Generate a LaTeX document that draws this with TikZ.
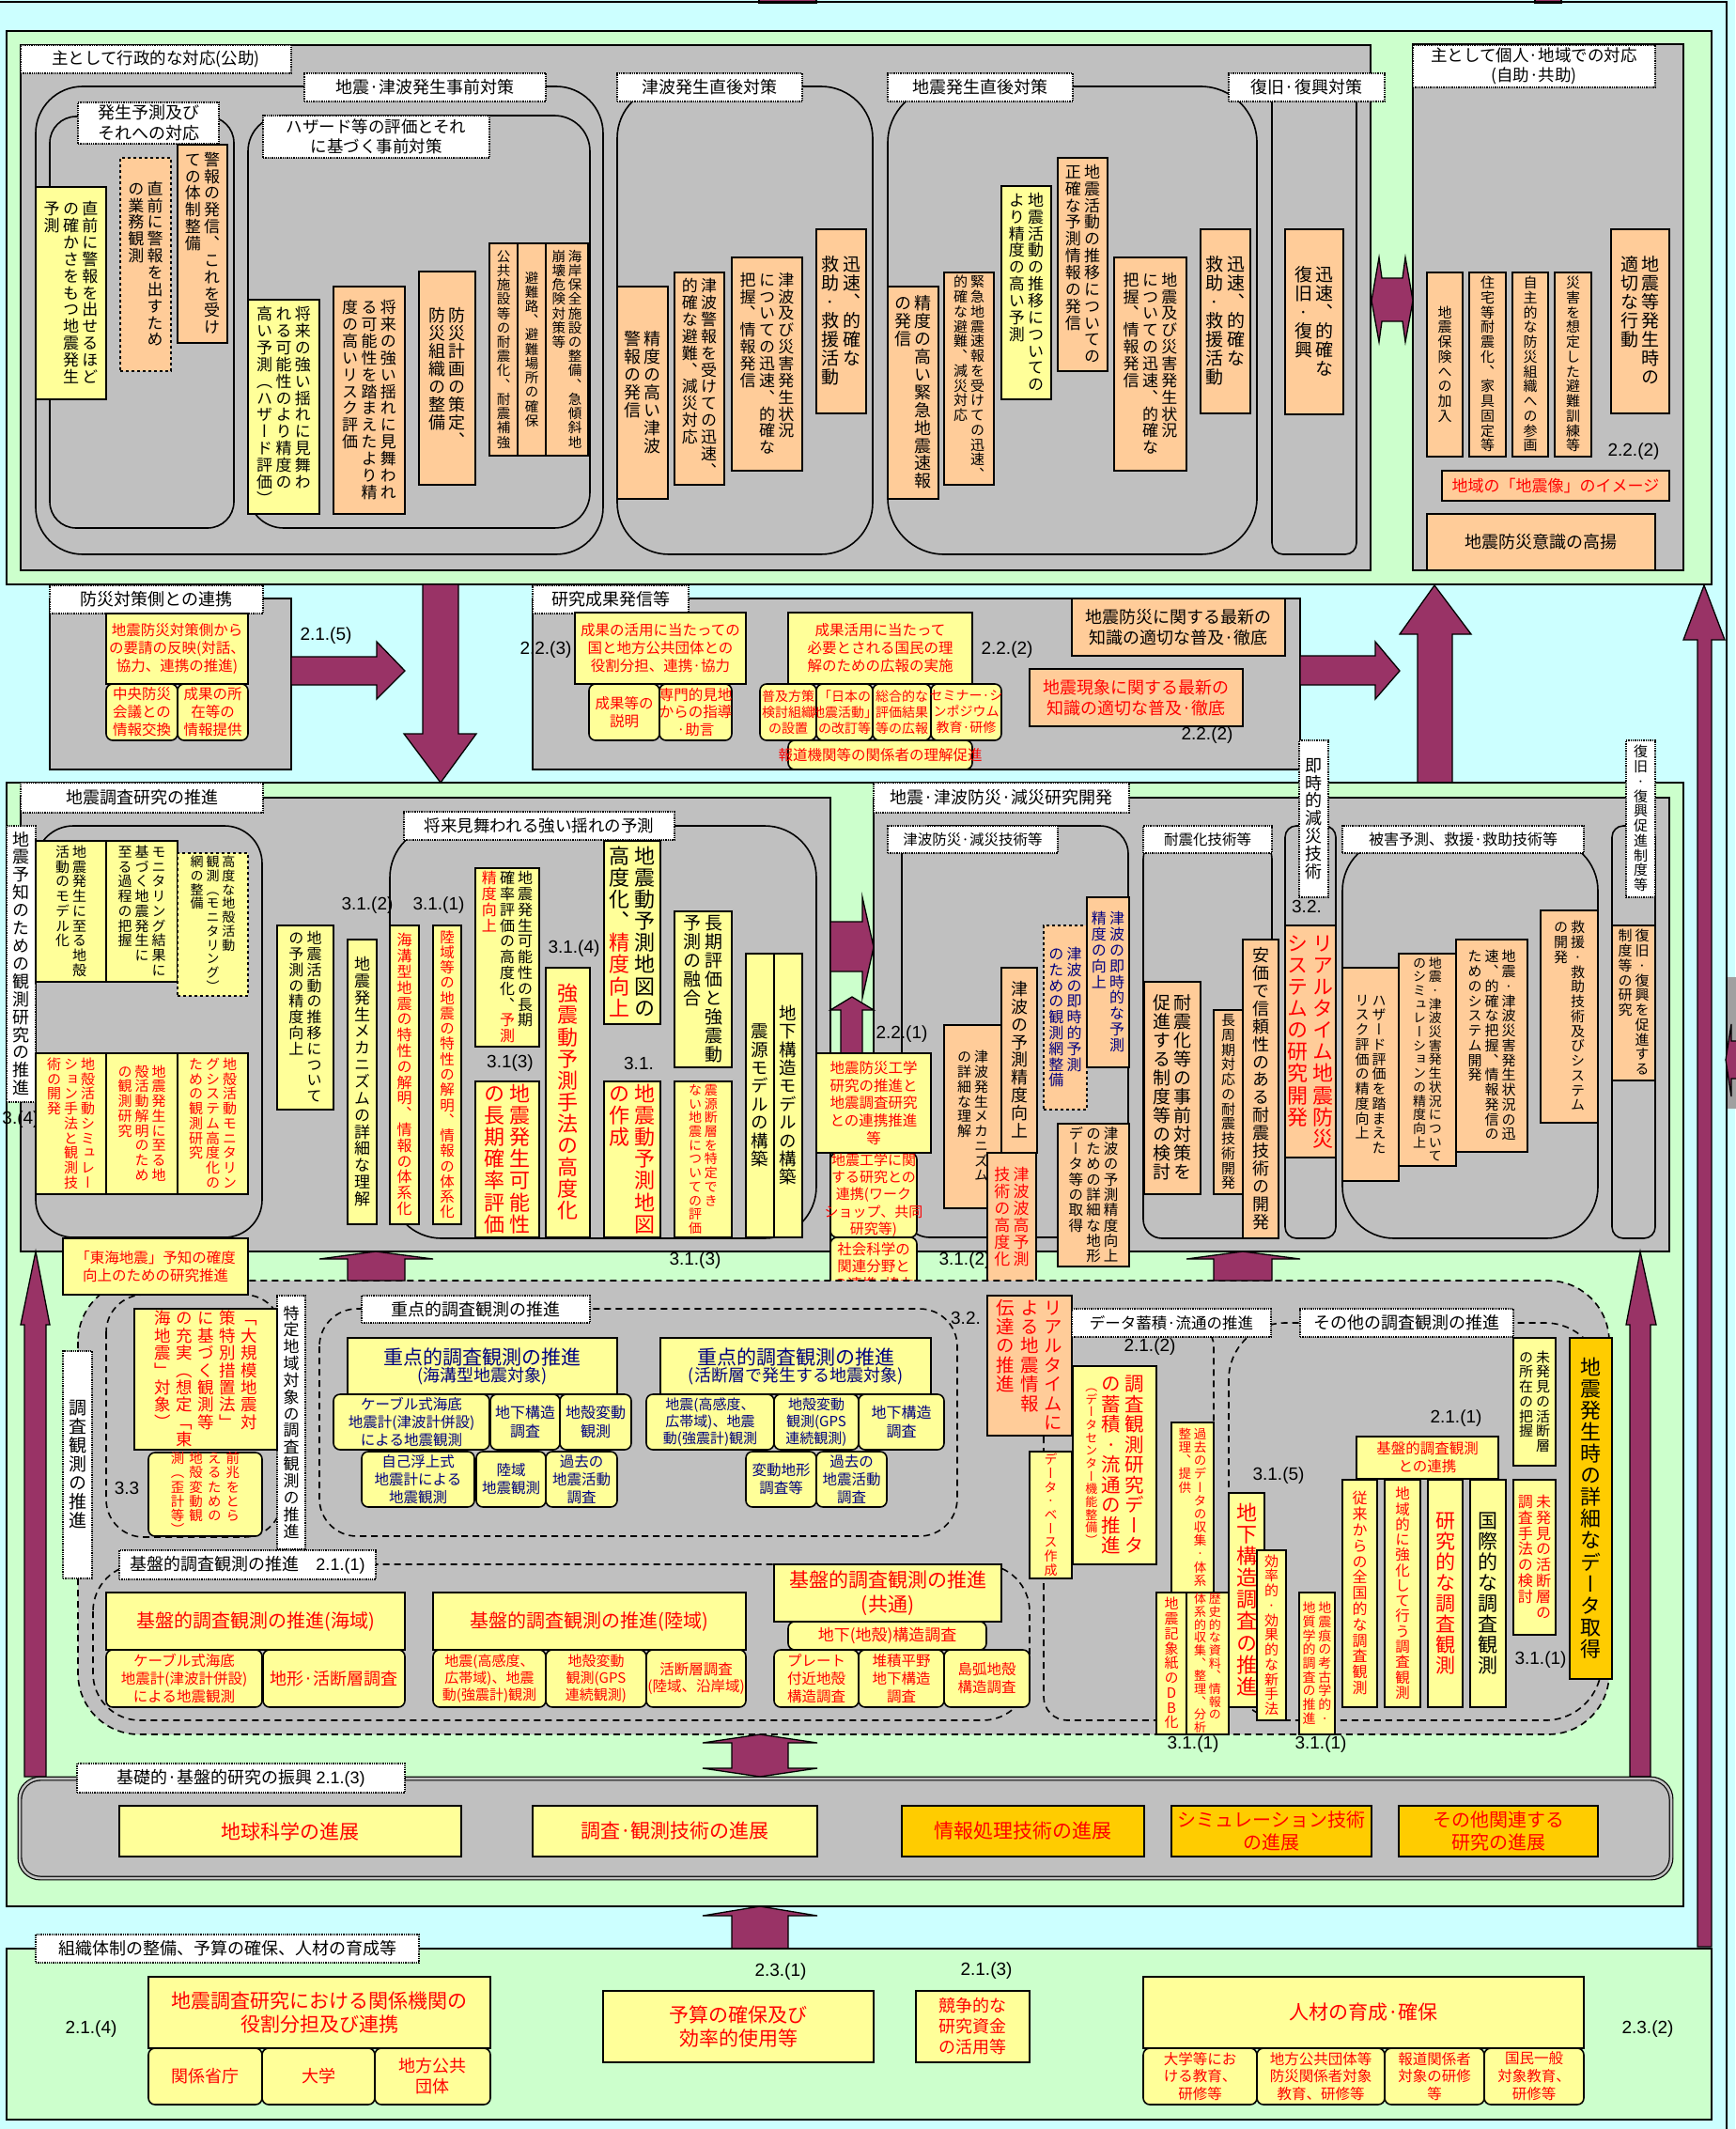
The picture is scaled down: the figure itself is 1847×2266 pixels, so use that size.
\documentclass[tikz,border=0pt]{standalone}
\usepackage{fontspec}
\usepackage{graphicx}
\setmainfont{Noto Sans CJK JP}
\newfontfamily\nf{Liberation Sans}
\newfontfamily\vjp[RawFeature=+vert]{Noto Sans CJK JP}
\definecolor{cyanbg}{HTML}{CCFFFF}
\definecolor{grn}{HTML}{CCFFCC}
\definecolor{gry}{HTML}{C0C0C0}
\definecolor{dgry}{HTML}{A0A0A0}
\definecolor{yel}{HTML}{FFFF99}
\definecolor{ora}{HTML}{FFCC99}
\definecolor{gold}{HTML}{FFCC00}
\definecolor{purp}{HTML}{993366}
\definecolor{jred}{HTML}{FF0000}
\definecolor{jblue}{HTML}{000080}
\newcommand\fs[1]{\pgfmathparse{#1*1.22}\fontsize{#1pt}{\pgfmathresult pt}\selectfont}
\newcommand\Rc{}\newcommand\Kc{}\newcommand\Sm{}
\ExplSyntaxOn
\tl_new:N \l__vt_color_tl
\seq_new:N \l__vt_cols_seq
\cs_new_protected:Npn \__vt_fix:n #1
  { \raisebox{0pt}[0.88em][0.17em]{#1} }
\cs_new_protected:Npn \__vt_char:n #1
  {
    \hbox_to_wd:nn { 1em }
      {
        \hss
        \tl_if_empty:NF \l__vt_color_tl { \color { \l__vt_color_tl } }
        \str_case:nnF {#1}
          {
            { ( } { \__vt_fix:n { （ } }
            { ) } { \__vt_fix:n { ） } }
          }
          { \__vt_fix:n {#1} }
        \hss
      }
  }
\cs_new_protected:Npn \__vt_col:n #1
  {
    \vbox_top:n
      {
        \offinterlineskip
        \vjp
        \tl_clear:N \l__vt_color_tl
        \tl_map_inline:nn {#1}
          {
            \str_case:nnF {##1}
              {
                { \Rc } { \tl_set:Nn \l__vt_color_tl { jred } }
                { \Kc } { \tl_set:Nn \l__vt_color_tl { black } }
                { \Sm } { \fontsize{13pt}{13pt}\selectfont }
              }
              { \__vt_char:n {##1} }
          }
      }
  }
\NewDocumentCommand \VT { O{0.2} m }
  {
    \seq_set_split:Nnn \l__vt_cols_seq { | } {#2}
    \seq_reverse:N \l__vt_cols_seq
    \hbox:n
      {
        \seq_map_indexed_inline:Nn \l__vt_cols_seq
          {
            \int_compare:nNnT {##1} > { 1 } { \skip_horizontal:n { #1 em } }
            \__vt_col:n {##2}
          }
      }
  }
\ExplSyntaxOff
\newcommand\bx[8]{%
  \node[#2, minimum width={#5-#3}, minimum height={#6-#4}, inner sep=0pt, outer sep=0pt] (#1) at ({(#3+#5)/2},{(#4+#6)/2}) {};
  \node[txt, #7] (#1t) at (#1.center) {#8};}
\newcommand\nm[3]{\node[num] (#1) at (#2) {#3};}
\begin{document}
\begin{tikzpicture}[x=1pt,y=-1pt,
  bxs/.style={draw=black, line width=1.6pt},
  yb/.style={bxs, fill=yel},
  ob/.style={bxs, fill=ora},
  gb/.style={bxs, fill=gold},
  yr/.style={yb, rounded corners=7pt},
  yd/.style={yb, dashed},
  od/.style={ob, dashed},
  lb/.style={draw=black, fill=white, densely dotted, line width=1.3pt},
  fz/.style={font=\fs{#1}},
  rd/.style={text=jred},
  bl/.style={text=jblue},
  txt/.style={inner sep=0pt, align=center},
  num/.style={font=\nf\fs{19}, inner sep=0pt},
  parr/.style={fill=purp, draw=black, line width=1.3pt, line join=miter},
  cont/.style={draw=black, line width=1.6pt, rounded corners=#1},
  cont/.default=30pt,
  dcont/.style={draw=black, line width=1.6pt, dash pattern=on 7pt off 5pt, rounded corners=#1},
  dcont/.default=40pt,
  grnbox/.style={draw=black, line width=1.6pt, fill=grn},
  grybox/.style={draw=black, line width=1.6pt, fill=gry}]
\useasboundingbox (0,0) rectangle (1847,2266);
\fill[cyanbg] (0,0) rectangle (1847,2266);
% frame and stubs
\draw[parr] (808,-3) rectangle (869,3);
\draw[parr] (1634,-3) rectangle (1662,3);
\fill[dgry] (1839,1040) rectangle (1850,1180);
\draw[line width=1.5pt] (0,2) -- (1838,2) -- (1838,2266);
\draw[parr] (1850,1108)--(1843,1108)--(1843,1090)--(1837,1128)--(1843,1167)--(1843,1148)--(1850,1148);

% ===== upper green area =====
\draw[grnbox] (7,33) rectangle (1822,622);
\draw[grybox] (22,48) rectangle (1459,607);
\draw[grybox] (1504,47) rectangle (1792,607);
\draw[cont=50pt] (38,92) rectangle (642,590);
\draw[cont=28pt] (53,124) rectangle (249,562);
\draw[cont=38pt] (264,123) rectangle (628,562);
\draw[cont=55pt] (657,92) rectangle (929,590);
\draw[cont=60pt] (945,92) rectangle (1338,590);
\draw[cont=12pt] (1354,92) rectangle (1444,590);

\bx{L1}{lb}{22}{48}{310}{78}{fz=17.5}{主として行政的な対応(公助)}
\bx{L2}{lb}{324}{78}{581}{108}{fz=18}{地震·津波発生事前対策}
\bx{L3}{lb}{83}{109}{233}{153}{fz=18}{発生予測及び\\それへの対応}
\bx{L4}{lb}{280}{123}{521}{168}{fz=17.5}{ハザード等の評価とそれ\\に基づく事前対策}
\bx{L5}{lb}{657}{78}{854}{108}{fz=18}{津波発生直後対策}
\bx{L6}{lb}{945}{78}{1142}{108}{fz=18}{地震発生直後対策}
\bx{L7}{lb}{1308}{78}{1474}{108}{fz=18}{復旧·復興対策}
\bx{L8}{lb}{1504}{48}{1762}{93}{fz=17.5}{主として個人·地域での対応\\(自助·共助)}

\bx{k1}{yb}{38}{199}{113}{425}{fz=17}{\VT{直前に警報を出せるほど|の確かさをもつ地震発生|予測}}
\bx{k2}{od}{128}{168}{182}{395}{fz=17}{\VT{直前に警報を出すため|の業務観測}}
\bx{k3}{ob}{189}{154}{242}{365}{fz=17}{\VT{警報の発信、これを受け|ての体制整備}}
\bx{k4}{yb}{264}{319}{340}{547}{fz=17}{\VT{将来の強い揺れに見舞わ|れる可能性のより精度の|高い予測(ハザード評価)}}
\bx{k5}{ob}{355}{305}{431}{547}{fz=17}{\VT{将来の強い揺れに見舞われ|る可能性を踏まえたより精|度の高いリスク評価}}
\bx{k6}{ob}{446}{289}{506}{516}{fz=18}{\VT{防災計画の策定、|防災組織の整備}}
\bx{k7}{ob}{521}{259}{551}{485}{fz=14.5}{\VT{公共施設等の耐震化、耐震補強}}
\bx{k8}{ob}{551}{259}{581}{485}{fz=14.5}{\VT{避難路、避難場所の確保}}
\bx{k9}{ob}{581}{259}{626}{485}{fz=14.5}{\VT{海岸保全施設の整備、急傾斜地|崩壊危険対策等}}

\bx{t1}{ob}{657}{305}{711}{531}{fz=18}{\VT{精度の高い津波|警報の発信}}
\bx{t2}{ob}{718}{290}{771}{516}{fz=17}{\VT{津波警報を受けての迅速、|的確な避難、減災対応}}
\bx{t3}{ob}{779}{274}{854}{501}{fz=17}{\VT{津波及び災害発生状況|についての迅速、的確な|把握、情報発信}}
\bx{t4}{ob}{869}{244}{922}{440}{fz=19}{\VT{迅速、的確な|救助·救援活動}}

\bx{e1}{ob}{945}{305}{999}{531}{fz=18}{\VT{精度の高い緊急地震速報|の発信}}
\bx{e2}{ob}{1005}{290}{1058}{516}{fz=15}{\VT{緊急地震速報を受けての迅速、|的確な避難、減災対応}}
\bx{e3}{yb}{1066}{198}{1119}{425}{fz=17}{\VT{地震活動の推移についての|より精度の高い予測}}
\bx{e4}{ob}{1126}{168}{1179}{395}{fz=17}{\VT{地震活動の推移についての|正確な予測情報の発信}}
\bx{e5}{ob}{1186}{274}{1263}{501}{fz=17}{\VT{地震及び災害発生状況|についての迅速、的確な|把握、情報発信}}
\bx{e6}{ob}{1278}{244}{1331}{440}{fz=19}{\VT{迅速、的確な|救助·救援活動}}
\bx{r1}{ob}{1368}{244}{1430}{441}{fz=19}{\VT{迅速、的確な|復旧·復興}}

\bx{p1}{ob}{1519}{290}{1557}{486}{fz=15}{\VT{地震保険への加入}}
\bx{p2}{ob}{1564}{290}{1603}{486}{fz=15}{\VT{住宅等耐震化、家具固定等}}
\bx{p3}{ob}{1610}{290}{1648}{486}{fz=15}{\VT{自主的な防災組織への参画}}
\bx{p4}{ob}{1655}{290}{1694}{486}{fz=15}{\VT{災害を想定した避難訓練等}}
\bx{p5}{ob}{1715}{244}{1777}{440}{fz=19}{\VT{地震等発生時の|適切な行動}}
\nm{n1}{1739,481}{2.2.(2)}
\bx{p6}{ob}{1535}{501}{1777}{533}{fz=17,rd}{地域の「地震像」のイメージ}
\bx{p7}{ob}{1519}{547}{1762}{607}{fz=18}{地震防災意識の高揚}

\draw[parr] (1460,320)--(1468,274)--(1471,296)--(1493,296)--(1496,274)--(1504,320)--(1496,364)--(1493,342)--(1471,342)--(1468,364)--cycle;

% ===== middle band =====
\draw[grybox] (53,637) rectangle (310,819);
\bx{L9}{lb}{53}{623}{280}{653}{fz=18}{防災対策側との連携}
\bx{m1}{yb}{113}{653}{264}{728}{fz=15.5,rd}{地震防災対策側から\\の要請の反映(対話、\\協力、連携の推進)}
\bx{m2}{yr}{113}{728}{189}{788}{fz=15.5,rd}{中央防災\\会議との\\情報交換}
\bx{m3}{yr}{189}{728}{264}{788}{fz=15.5,rd}{成果の所\\在等の\\情報提供}
\nm{n2}{347,677}{2.1.(5)}
\draw[parr] (310,699)--(401,699)--(401,683)--(431,714)--(401,744)--(401,729)--(310,729)--cycle;
\draw[parr] (450,622)--(488,622)--(488,781)--(507,781)--(469,833)--(430,781)--(450,781)--cycle;

\draw[grybox] (567,637) rectangle (1384,819);
\bx{L10}{lb}{567}{623}{733}{653}{fz=18}{研究成果発信等}
\bx{m4}{yb}{612}{652}{794}{728}{fz=15.5,rd}{成果の活用に当たっての\\国と地方公共団体との\\役割分担、連携·協力}
\nm{n3}{581,692}{2.2.(3)}
\bx{m5}{yr}{627}{728}{702}{788}{fz=15.5,rd}{成果等の\\説明}
\bx{m6}{yr}{702}{728}{779}{788}{fz=15.5,rd}{専門的見地\\からの指導\\·助言}
\bx{m7}{yb}{839}{652}{1035}{728}{fz=15.5,rd}{成果活用に当たって\\必要とされる国民の理\\解のための広報の実施}
\nm{n4}{1072,692}{2.2.(2)}
\bx{m8}{yr}{809}{728}{869}{788}{fz=14,rd}{普及方策\\検討組織\\の設置}
\bx{m9}{yr}{869}{728}{929}{788}{fz=14,rd}{「日本の\\地震活動」\\の改訂等}
\bx{m10}{yr}{929}{728}{991}{788}{fz=14,rd}{総合的な\\評価結果\\等の広報}
\bx{m11}{yr}{991}{728}{1066}{788}{fz=14,rd}{セミナー·シ\\ンポジウム\\教育·研修}
\bx{m12}{yr}{839}{788}{1035}{819}{fz=15.5,rd}{報道機関等の関係者の理解促進}
\bx{m13}{ob}{1141}{637}{1368}{698}{fz=18}{地震防災に関する最新の\\知識の適切な普及·徹底}
\bx{m14}{ob}{1096}{712}{1323}{773}{fz=18,rd}{地震現象に関する最新の\\知識の適切な普及·徹底}
\nm{n5}{1285,783}{2.2.(2)}
\draw[parr] (1384,698)--(1464,698)--(1464,683)--(1490,714)--(1464,744)--(1464,729)--(1384,729)--cycle;
\draw[parr] (1509,833)--(1509,675)--(1490,675)--(1527,623)--(1566,675)--(1546,675)--(1546,833)--cycle;
\draw[parr] (1807,2072)--(1807,681)--(1792,681)--(1814,623)--(1836,681)--(1822,681)--(1822,2072)--cycle;

% ===== middle green area =====
\draw[grnbox] (7,833) rectangle (1792,2029);
\draw[grybox] (22,849) rectangle (884,1332);
\draw[grybox] (930,849) rectangle (1777,1332);
\draw[cont=40pt] (38,879) rectangle (279,1317);
\draw[cont=55pt] (415,879) rectangle (869,1318);
\draw[cont=30pt] (960,879) rectangle (1201,1317);
\draw[cont=20pt] (1217,894) rectangle (1354,1318);
\draw[cont=12pt] (1368,879) rectangle (1422,1318);
\draw[cont=55pt] (1429,893) rectangle (1701,1318);
\draw[cont=12pt] (1716,879) rectangle (1762,1318);

\bx{L11}{lb}{22}{833}{280}{865}{fz=18}{地震調査研究の推進}
\bx{L12}{lb}{930}{833}{1202}{865}{fz=18}{地震·津波防災·減災研究開発}
\bx{L13}{lb}{7}{879}{38}{1173}{fz=18}{\VT{地震予知のための観測研究の推進}}
\bx{L14}{lb}{430}{864}{718}{894}{fz=17.5}{将来見舞われる強い揺れの予測}
\bx{L15}{lb}{945}{879}{1126}{908}{fz=15.5}{津波防災·減災技術等}
\bx{L16}{lb}{1217}{879}{1354}{908}{fz=15.5}{耐震化技術等}
\bx{L17}{lb}{1383}{788}{1414}{955}{fz=18}{\VT{即時的減災技術}}
\bx{L18}{lb}{1429}{879}{1686}{908}{fz=16}{被害予測、救援·救助技術等}
\bx{L19}{lb}{1731}{788}{1762}{955}{fz=15}{\VT{復旧·復興促進制度等}}
\nm{n6}{22,1192}{3.(4)}

\bx{a1}{yb}{38}{895}{113}{1045}{fz=15}{\VT{地震発生に至る地殻|活動のモデル化}}
\bx{a2}{yb}{113}{895}{189}{1045}{fz=15}{\VT{モニタリング結果に|基づく地震発生に|至る過程の把握}}
\bx{a3}{yd}{189}{908}{264}{1060}{fz=14}{\VT{高度な地殻活動|観測(モニタリング)|網の整備}}
\bx{a4}{yb}{38}{1121}{113}{1271}{fz=15,rd}{\VT{地殻活動シミュレー|ション手法と観測技|術の開発}}
\bx{a5}{yb}{113}{1121}{189}{1271}{fz=15,rd}{\VT{地震発生に至る地|殻活動解明のため|の観測研究}}
\bx{a6}{yb}{189}{1121}{264}{1271}{fz=15,rd}{\VT{地殻活動モニタリン|グシステム高度化の|ための観測研究}}

\nm{n7}{391,964}{3.1.(2)}
\nm{n8}{467,964}{3.1.(1)}
\bx{b1}{yb}{295}{985}{355}{1181}{fz=16}{\VT{地震活動の推移について|の予測の精度向上}}
\bx{b2}{yb}{370}{1000}{401}{1303}{fz=17}{\VT{地震発生メカニズムの詳細な理解}}
\bx{b3}{yb}{415}{985}{446}{1303}{fz=16,rd}{\VT{海溝型地震の特性の解明、情報の体系化}}
\bx{b4}{yb}{461}{985}{491}{1303}{fz=15.5,rd}{\VT{陸域等の地震の特性の解明、情報の体系化}}
\bx{b5}{yb}{506}{924}{574}{1114}{fz=16}{\VT{地震発生可能性の長期|確率評価の高度化、\Rc 予測|\Rc 精度向上}}
\nm{n9}{543,1132}{3.1(3)}
\bx{b6}{yb}{506}{1151}{574}{1317}{fz=22,rd}{\VT{地震発生可能性|の長期確率評価}}
\nm{n10}{611,1010}{3.1.(4)}
\bx{b7}{yb}{581}{1030}{628}{1317}{fz=22,rd}{\VT{強震動予測手法の高度化}}
\bx{b8}{yb}{643}{895}{703}{1090}{fz=22}{\VT{地震動予測地図の|高度化、\Rc 精度向上}}
\nm{n11}{680,1132}{3.1.}
\bx{b9}{yb}{643}{1151}{703}{1317}{fz=22,rd}{\VT{地震動予測地図|の作成}}
\bx{b10}{yb}{718}{970}{779}{1136}{fz=19}{\VT{長期評価と強震動|予測の融合}}
\bx{b11}{yb}{718}{1151}{779}{1317}{fz=14,rd}{\VT{震源断層を特定でき|ない地震についての評価}}
\bx{b12}{yb}{794}{1015}{824}{1317}{fz=18.5}{\VT{震源モデルの構築}}
\bx{b13}{yb}{824}{1015}{854}{1317}{fz=18.5}{\VT{地下構造モデルの構築}}

\draw[parr] (884,981)--(918,981)--(918,955)--(930,1008)--(918,1062)--(918,1034)--(884,1034)--cycle;
\draw[parr] (895,1121)--(895,1075)--(884,1075)--(907,1061)--(930,1075)--(918,1075)--(918,1121)--cycle;
\bx{c1}{yb}{869}{1121}{991}{1227}{fz=15.5,rd}{地震防災工学\\研究の推進と\\地震調査研究\\との連携推進\\等}
\nm{n12}{960,1101}{2.2.(1)}
\bx{c2}{yr}{884}{1227}{976}{1317}{fz=15,rd}{地震工学に関\\する研究との\\連携(ワーク\\ショップ、共同\\研究等)}
\bx{c3}{yr}{884}{1317}{976}{1379}{fz=15.5,rd}{社会科学の\\関連分野と\\の連携·協力}
\nm{n13}{740,1342}{3.1.(3)}
\nm{n14}{1027,1342}{3.1.(2)}

\bx{d1}{ob}{1005}{1091}{1066}{1286}{fz=15}{\VT{津波発生メカニズム|の詳細な理解}}
\bx{d2}{ob}{1066}{1030}{1104}{1227}{fz=18}{\VT{津波の予測精度向上}}
\bx{d3}{od}{1111}{985}{1157}{1181}{fz=16,bl}{\VT{津波の即時的予測|のための観測網整備}}
\bx{d4}{ob}{1157}{955}{1202}{1136}{fz=16,bl}{\VT{津波の即時的な予測|精度の向上}}
\bx{d5}{ob}{1051}{1227}{1103}{1364}{fz=17,rd}{\VT{津波波高予測|技術の高度化}}
\bx{d6}{ob}{1126}{1196}{1202}{1348}{fz=15.5}{\VT{津波の予測精度向上|のための詳細な地形|データ等の取得}}

\bx{f1}{ob}{1218}{1045}{1278}{1271}{fz=19}{\VT{耐震化等の事前対策を|促進する制度等の検討}}
\bx{f2}{ob}{1292}{1075}{1323}{1271}{fz=15}{\VT{長周期対応の耐震技術開発}}
\bx{f3}{ob}{1323}{1000}{1361}{1318}{fz=18}{\VT{安価で信頼性のある耐震技術の開発}}
\nm{n15}{1391,965}{3.2.}
\bx{g1}{ob}{1368}{985}{1422}{1232}{fz=22,rd}{\VT{リアルタイム地震防災|システムの研究開発}}
\bx{h1}{ob}{1429}{1030}{1489}{1257}{fz=15}{\VT{ハザード評価を踏まえた|リスク評価の精度向上}}
\bx{h2}{ob}{1489}{1015}{1550}{1241}{fz=14}{\VT{地震·津波災害発生状況について|のシミュレーションの精度向上}}
\bx{h3}{ob}{1550}{1000}{1626}{1226}{fz=15}{\VT{地震·津波災害発生状況の迅|速、的確な把握、情報発信の|ためのシステム開発}}
\bx{h4}{ob}{1640}{969}{1701}{1195}{fz=15}{\VT{救援·救助技術及びシステム|の開発}}
\bx{h5}{ob}{1716}{985}{1762}{1150}{fz=15}{\VT{復旧·復興を促進する|制度等の研究}}

% ===== lower observation area =====
\draw[dcont=65pt, fill=gry] (83,1363) rectangle (1713,1846);
\draw[dcont=40pt] (113,1378) rectangle (300,1636);
\draw[dcont=40pt] (340,1393) rectangle (1019,1635);
\draw[dcont=25pt] (1111,1408) rectangle (1292,1831);
\draw[dcont=60pt] (1308,1408) rectangle (1705,1831);
\draw[dcont=50pt] (99,1665) rectangle (1096,1831);

\draw[parr] (26,1891)--(26,1410)--(22,1410)--(38,1332)--(53,1410)--(49,1410)--(49,1891)--cycle;
\draw[parr] (370,1363)--(370,1340)--(340,1340)--(400,1332)--(461,1340)--(431,1340)--(431,1363)--cycle;
\draw[parr] (1292,1363)--(1292,1340)--(1263,1340)--(1323,1332)--(1384,1340)--(1354,1340)--(1354,1363)--cycle;
\draw[parr] (1735,1891)--(1735,1410)--(1731,1410)--(1746,1332)--(1763,1410)--(1757,1410)--(1757,1891)--cycle;

\bx{q0}{yb}{67}{1318}{264}{1378}{fz=15.5,rd}{「東海地震」予知の確度\\向上のための研究推進}
\bx{L20}{lb}{67}{1438}{98}{1680}{fz=19}{\VT{調査観測の推進}}
\bx{L21}{lb}{295}{1379}{325}{1649}{fz=17}{\VT{特定地域対象の調査観測の推進}}
\bx{q1}{yb}{143}{1393}{295}{1543}{fz=17.5,rd}{\VT[0.32]{「大規模地震対|策特別措置法」|に基づく観測等|の充実(想定「東|海地震」対象)}}
\bx{q2}{yr}{158}{1546}{279}{1635}{fz=14.5,rd}{\VT[0.35]{前兆をとら|えるための|地殻変動観|測(歪計等)}}
\nm{n16}{135,1584}{3.3}

\bx{L22}{lb}{385}{1379}{628}{1408}{fz=18}{重点的調査観測の推進}
\nm{n17}{1028,1403}{3.2.}
\bx{s1}{yb}{370}{1424}{657}{1484}{bl}{{\fs{21}重点的調査観測の推進}\\{\fs{18}(海溝型地震対象)}}
\bx{s2}{yr}{355}{1484}{521}{1543}{fz=15.5,bl}{ケーブル式海底\\地震計(津波計併設)\\による地震観測}
\bx{s3}{yr}{522}{1484}{596}{1543}{fz=16,bl}{地下構造\\調査}
\bx{s4}{yr}{596}{1484}{672}{1543}{fz=16,bl}{地殻変動\\観測}
\bx{s5}{yr}{385}{1545}{505}{1604}{fz=15.5,bl}{自己浮上式\\地震計による\\地震観測}
\bx{s6}{yr}{507}{1545}{581}{1604}{fz=15.5,bl}{陸域\\地震観測}
\bx{s7}{yr}{581}{1545}{657}{1604}{fz=15.5,bl}{過去の\\地震活動\\調査}
\bx{s8}{yb}{703}{1424}{991}{1484}{bl}{{\fs{21}重点的調査観測の推進}\\{\fs{18}(活断層で発生する地震対象)}}
\bx{s9}{yr}{688}{1484}{824}{1543}{fz=15,bl}{地震(高感度、\\広帯域)、地震\\動(強震計)観測}
\bx{s10}{yr}{824}{1484}{914}{1543}{fz=15,bl}{地殻変動\\観測(GPS\\連続観測)}
\bx{s11}{yr}{914}{1484}{1005}{1543}{fz=16,bl}{地下構造\\調査}
\bx{s12}{yr}{794}{1545}{869}{1604}{fz=15.5,bl}{変動地形\\調査等}
\bx{s13}{yr}{869}{1545}{944}{1604}{fz=15.5,bl}{過去の\\地震活動\\調査}

\bx{u1}{ob}{1051}{1379}{1141}{1528}{fz=19.5,rd}{\VT[0.3]{リアルタイムに|よる地震情報|伝達の推進}}
\bx{L23}{lb}{1141}{1393}{1353}{1423}{fz=16.5}{データ蓄積·流通の推進}
\nm{n18}{1224,1434}{2.1.(2)}
\bx{u2}{yb}{1096}{1545}{1141}{1680}{fz=14,rd}{\VT{データ·ベース作成}}
\bx{u3}{yb}{1142}{1454}{1231}{1665}{fz=20.5,rd}{\VT{調査観測研究データ|の蓄積·流通の推進|\Sm (データセンター機能整備)}}
\bx{u4}{yb}{1247}{1514}{1292}{1695}{fz=13.5,rd}{\VT{過去のデータの収集·体系|整理、提供}}
\bx{u5}{yb}{1231}{1695}{1263}{1846}{fz=15,rd}{\VT{地震記象紙のDB化}}
\bx{u6}{yb}{1263}{1695}{1308}{1846}{fz=13,rd}{\VT{歴史的な資料、情報の|体系的収集、整理、分析}}
\nm{n19}{1270,1857}{3.1.(1)}
\nm{n20}{1406,1857}{3.1.(1)}

\bx{L24}{lb}{1384}{1393}{1611}{1423}{fz=18}{その他の調査観測の推進}
\nm{n21}{1361,1571}{3.1.(5)}
\bx{v1}{yb}{1308}{1589}{1346}{1817}{fz=22,rd}{\VT{地下構造調査の推進}}
\bx{v2}{yb}{1338}{1650}{1369}{1831}{fz=15,rd}{\VT{効率的·効果的な新手法}}
\bx{v3}{yb}{1383}{1695}{1421}{1846}{fz=14,rd}{\VT{地震痕の考古学的·|地質学的調査の推進}}
\nm{n22}{1550,1510}{2.1.(1)}
\bx{v4}{yb}{1444}{1529}{1595}{1574}{fz=15.5,rd}{基盤的調査観測\\との連携}
\bx{v5}{yb}{1429}{1575}{1466}{1817}{fz=16,rd}{\VT{従来からの全国的な調査観測}}
\bx{v6}{yb}{1474}{1575}{1512}{1817}{fz=15.5,rd}{\VT{地域的に強化して行う調査観測}}
\bx{v7}{yb}{1520}{1575}{1557}{1817}{fz=21,rd}{\VT{研究的な調査観測}}
\bx{v8}{yb}{1565}{1575}{1603}{1817}{fz=21}{\VT{国際的な調査観測}}
\bx{v9}{yb}{1611}{1424}{1656}{1560}{fz=15}{\VT{未発見の活断層|の所在の把握}}
\bx{v10}{yb}{1611}{1575}{1656}{1740}{fz=16,rd}{\VT{未発見の活断層の|調査手法の検討}}
\nm{n23}{1640,1767}{3.1.(1)}
\bx{v11}{gb}{1671}{1424}{1716}{1787}{fz=22}{\VT{地震発生時の詳細なデータ取得}}

\bx{L25}{lb}{127}{1650}{400}{1681}{fz=18}{基盤的調査観測の推進\quad{\nf 2.1.(1)}}
\bx{w1}{yb}{113}{1695}{431}{1756}{fz=20,rd}{基盤的調査観測の推進(海域)}
\bx{w2}{yr}{113}{1756}{279}{1817}{fz=15.5,rd}{ケーブル式海底\\地震計(津波計併設)\\による地震観測}
\bx{w3}{yr}{280}{1756}{431}{1817}{fz=18,rd}{地形·活断層調査}
\bx{w4}{yb}{461}{1695}{794}{1756}{fz=20,rd}{基盤的調査観測の推進(陸域)}
\bx{w5}{yr}{461}{1756}{581}{1817}{fz=15,rd}{地震(高感度、\\広帯域)、地震\\動(強震計)観測}
\bx{w6}{yr}{581}{1756}{688}{1817}{fz=15,rd}{地殻変動\\観測(GPS\\連続観測)}
\bx{w7}{yr}{688}{1756}{794}{1817}{fz=15.5,rd}{活断層調査\\(陸域、沿岸域)}
\bx{w8}{yb}{824}{1665}{1066}{1726}{fz=21,rd}{基盤的調査観測の推進\\(共通)}
\bx{w9}{yr}{839}{1726}{1050}{1756}{fz=17,rd}{地下(地殻)構造調査}
\bx{w10}{yr}{824}{1756}{914}{1817}{fz=15.5,rd}{プレート\\付近地殻\\構造調査}
\bx{w11}{yr}{914}{1756}{1005}{1817}{fz=15.5,rd}{堆積平野\\地下構造\\調査}
\bx{w12}{yr}{1005}{1756}{1096}{1817}{fz=15.5,rd}{島弧地殻\\構造調査}

\draw[parr] (809,1846)--(870,1855)--(839,1855)--(839,1882)--(870,1882)--(809,1891)--(748,1882)--(779,1882)--(779,1855)--(748,1855)--cycle;

% ===== basic research =====
\draw[line width=1.2pt, double=gry, double distance=2.5pt, fill=gry, rounded corners=22pt] (21,1893) rectangle (1779,1999);
\bx{L26}{lb}{82}{1877}{431}{1908}{fz=18}{基礎的·基盤的研究の振興 {\nf 2.1.(3)}}
\bx{x1}{yb}{127}{1922}{491}{1976}{fz=21,rd}{地球科学の進展}
\bx{x2}{yb}{567}{1922}{870}{1976}{fz=21,rd}{調査·観測技術の進展}
\bx{x3}{gb}{960}{1922}{1218}{1976}{fz=21,rd}{情報処理技術の進展}
\bx{x4}{gb}{1247}{1922}{1460}{1976}{fz=20,rd}{シミュレーション技術\\の進展}
\bx{x5}{gb}{1489}{1922}{1701}{1976}{fz=20,rd}{その他関連する\\研究の進展}

\draw[parr] (779,2074)--(779,2039)--(748,2039)--(809,2029)--(870,2039)--(839,2039)--(839,2074)--cycle;

% ===== bottom green =====
\draw[grnbox] (7,2074) rectangle (1822,2256);
\bx{L27}{lb}{38}{2059}{446}{2089}{fz=18}{組織体制の整備、予算の確保、人材の育成等}
\nm{n24}{97,2160}{2.1.(4)}
\bx{y1}{yb}{158}{2104}{522}{2180}{fz=21,rd}{地震調査研究における関係機関の\\役割分担及び連携}
\bx{y2}{yr}{158}{2180}{279}{2240}{fz=18,rd}{関係省庁}
\bx{y3}{yr}{279}{2180}{399}{2240}{fz=18,rd}{大学}
\bx{y4}{yr}{399}{2180}{522}{2240}{fz=18,rd}{地方公共\\団体}
\nm{n25}{831,2099}{2.3.(1)}
\nm{n26}{1050,2098}{2.1.(3)}
\bx{y5}{yb}{642}{2119}{930}{2195}{fz=21,rd}{予算の確保及び\\効率的使用等}
\bx{y6}{yb}{975}{2119}{1096}{2195}{fz=18,rd}{競争的な\\研究資金\\の活用等}
\bx{y7}{yb}{1217}{2104}{1686}{2180}{fz=21,rd}{人材の育成·確保}
\bx{y8}{yr}{1217}{2180}{1338}{2240}{fz=15.5,rd}{大学等にお\\ける教育、\\研修等}
\bx{y9}{yr}{1338}{2180}{1474}{2240}{fz=15.5,rd}{地方公共団体等\\防災関係者対象\\教育、研修等}
\bx{y10}{yr}{1474}{2180}{1580}{2240}{fz=15.5,rd}{報道関係者\\対象の研修\\等}
\bx{y11}{yr}{1580}{2180}{1686}{2240}{fz=15.5,rd}{国民一般\\対象教育、\\研修等}
\nm{n27}{1754,2160}{2.3.(2)}
\end{tikzpicture}
\end{document}
